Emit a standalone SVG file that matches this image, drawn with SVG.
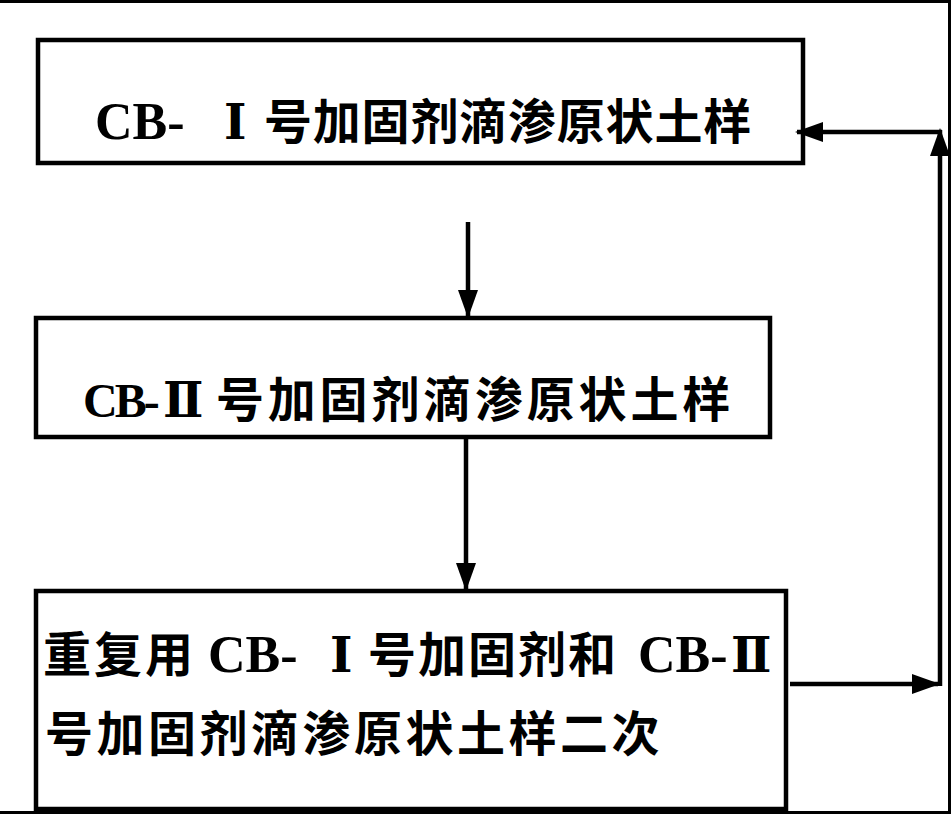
<svg xmlns="http://www.w3.org/2000/svg" width="952" height="815" viewBox="0 0 952 815">
<style>
.box{fill:#fff;stroke:#000;stroke-width:4.5}
.lat{font-family:"Liberation Serif","DejaVu Serif","Noto Sans CJK SC",serif;font-weight:700;font-size:52px;fill:#000}
.lat2{font-size:48px;letter-spacing:-3px}
.num{font-family:"DejaVu Serif","Liberation Serif","Noto Sans CJK SC",serif;font-weight:700;font-size:48px;fill:#000}
.cjk{font-family:"Noto Sans CJK SC","Noto Sans CJK JP",sans-serif;font-weight:700;font-size:48px;fill:#000}
.conn{fill:none;stroke:#000;stroke-width:4.5}
.frame{stroke:#000;stroke-width:3;fill:none}
</style>
<defs>
<marker id="ah" viewBox="0 0 28 20" refX="26" refY="10" markerWidth="28" markerHeight="20" markerUnits="userSpaceOnUse" orient="auto">
<path d="M0,0 L28,10 L0,20 z" fill="#000"/>
</marker>
</defs>
<rect width="952" height="815" fill="#fff"/>
<g id="frame">
<path class="frame" d="M0,1.5 H949.5 V812.5 H0"/>
</g>
<g id="node1">
<rect class="box" x="38" y="40" width="765" height="123"/>
<text y="139"><tspan class="lat" x="95">CB-</tspan><tspan class="num" x="224">Ⅰ</tspan><tspan class="cjk" x="264" letter-spacing="0.8">号加固剂滴渗原状土样</tspan></text>
</g>
<g id="node2">
<rect class="box" x="36" y="318" width="734" height="119"/>
<text y="417"><tspan class="lat lat2" x="83">CB-</tspan><tspan class="num" x="163">Ⅱ</tspan><tspan class="cjk" x="216" letter-spacing="3.8">号加固剂滴渗原状土样</tspan></text>
</g>
<g id="node3">
<rect class="box" x="36" y="591" width="750" height="218"/>
<text y="672"><tspan class="cjk" x="43" letter-spacing="3">重复用</tspan><tspan class="lat" x="208">CB-</tspan><tspan class="num" x="330">Ⅰ</tspan><tspan class="cjk" x="368" letter-spacing="2">号加固剂和</tspan><tspan class="lat" x="638">CB-</tspan><tspan class="num" x="731">Ⅱ</tspan></text>
<text y="751"><tspan class="cjk" x="45" letter-spacing="3.5">号加固剂滴渗原状土样二次</tspan></text>
</g>
<g id="connectors">
<path class="conn" d="M468,222 V316" marker-end="url(#ah)"/>
<path class="conn" d="M466,437 V589" marker-end="url(#ah)"/>
<path class="conn" d="M790,684 H938" marker-end="url(#ah)"/>
<path class="conn" d="M940,686 V130" marker-end="url(#ah)"/>
<path class="conn" d="M942,132 H797" marker-end="url(#ah)"/>
</g>
</svg>
